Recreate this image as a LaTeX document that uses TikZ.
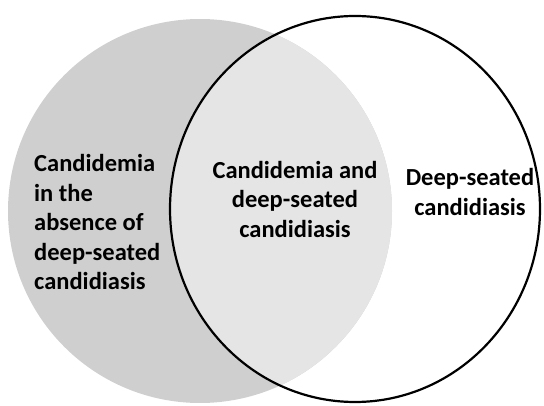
\documentclass[tikz,border=0pt]{standalone}
\usepackage{fontspec}
\setmainfont{Carlito}
\usetikzlibrary{calc}

\tikzset{
  label text/.style={font=\fontsize{24.5}{29.5}\selectfont\bfseries, inner sep=0pt}
}

\begin{document}
\begin{tikzpicture}[x=1pt,y=-1pt]
\useasboundingbox (0,0) rectangle (544,406);
% left set (candidemia)
\fill[black!19] (200,211) circle [radius=192];
% overlap
\begin{scope}
\clip (355,209) ellipse [x radius=186, y radius=194];
\fill[black!10] (200,211) circle [radius=192];
\end{scope}
% right set (deep-seated)
\draw[line width=2.2pt] (355,209) ellipse [x radius=185, y radius=193];
\node[label text, anchor=west, align=left] (left) at (34,222)
  {Candidemia\\in the\\absence of\\deep-seated\\candidiasis};
\node[label text, align=center] (both) at (295,199)
  {Candidemia and\\deep-seated\\candidiasis};
\node[label text, align=center] (right) at (470,192)
  {Deep-seated\\candidiasis};
\end{tikzpicture}
\end{document}
